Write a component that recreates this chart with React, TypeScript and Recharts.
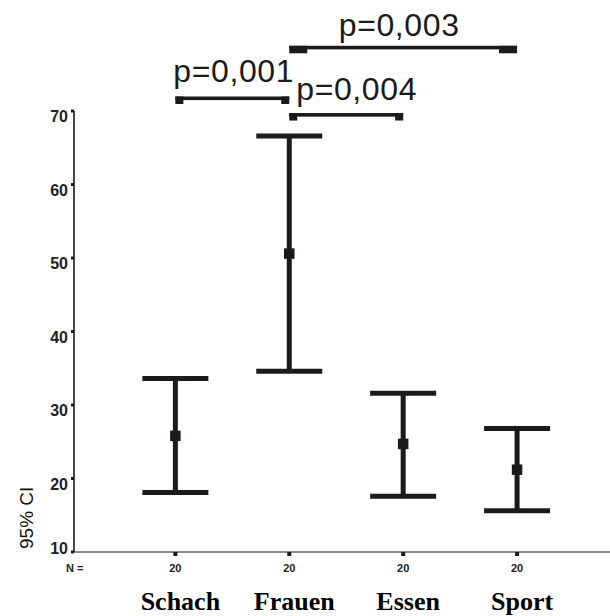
import { ComposedChart, ErrorBar, ReferenceLine, Scatter, XAxis, YAxis, ZAxis } from "recharts";

const categories = ["Schach", "Frauen", "Essen", "Sport"];
const counts = [20, 20, 20, 20];
const means = [25.8, 50.6, 24.7, 21.2];
const lower = [18.1, 34.6, 17.6, 15.6];
const upper = [33.6, 66.6, 31.6, 26.8];
const yTicks = [10, 20, 30, 40, 50, 60, 70];

// significance brackets: from group, to group, level, text
const pFrom = [1, 2, 2];
const pTo = [2, 3, 4];
const pLevel = [71.7, 69.45, 78.6];
const pLabels = ["p=0,001", "p=0,004", "p=0,003"];

const data = categories.map((name, i) => ({
  pos: i + 1,
  name,
  mean: means[i],
  err: [means[i] - lower[i], upper[i] - means[i]],
}));

const INK = "#1c1a1a";
const SANS = "Liberation Sans, Arial, sans-serif";

const bracketStyle = [
  { capW: 8, anchor: "start", dx: -2, dy: -15 },
  { capW: 8, anchor: "start", dx: 7, dy: -13 },
  { capW: 18, anchor: "middle", dx: -4, dy: -10 },
];

function bracketShape(i: number) {
  return (p: any) => {
    const { x1, x2, y1 } = p;
    const s = bracketStyle[i];
    const top = y1 - 2;
    const tx = s.anchor === "middle" ? (x1 + x2) / 2 + s.dx : x1 + s.dx;
    return (
      <g>
        <rect x={x1} y={top} width={x2 - x1} height={3.6} fill={INK} />
        <rect x={x1} y={top} width={s.capW} height={7.5} fill={INK} />
        <rect x={x2 - s.capW} y={top} width={s.capW} height={7.5} fill={INK} />
        <text
          x={tx}
          y={top + s.dy}
          textAnchor={s.anchor}
          fontSize={32}
          letterSpacing={0.6}
          fontFamily={SANS}
          fill={INK}
        >
          {pLabels[i]}
        </text>
      </g>
    );
  };
}

const XTick = (props: any) => {
  const { x, y, payload } = props;
  const i = payload.value - 1;
  return (
    <g>
      <text x={x} y={y + 14} textAnchor="middle" fontSize={11} fontWeight="bold" fontFamily={SANS} fill="#222">
        {counts[i]}
      </text>
      <text
        x={x + 5}
        y={y + 52}
        textAnchor="middle"
        fontSize={26}
        fontWeight="bold"
        fontFamily="Liberation Serif, Times New Roman, serif"
        fill="#000"
      >
        {categories[i]}
      </text>
    </g>
  );
};

const YTick = (props: any) => {
  const { x, y, payload } = props;
  const off = payload.value === 10 ? -3 : 6;
  return (
    <text x={x} y={y + off + 5} textAnchor="end" fontSize={16} fontWeight="bold" fontFamily={SANS} fill="#222">
      {payload.value}
    </text>
  );
};

export default function App() {
  return (
    <div style={{ position: "absolute", left: 0, top: 0, background: "#fff" }}>
      <ComposedChart width={610} height={616} data={data} margin={{ top: 111, right: 0, bottom: 34, left: 1 }}>
        <XAxis
          type="number"
          dataKey="pos"
          domain={[0.11, 4.816]}
          allowDataOverflow
          ticks={[1, 2, 3, 4]}
          height={30}
          tickSize={4}
          tickMargin={2}
          tickLine={{ stroke: INK, strokeWidth: 4 }}
          axisLine={{ stroke: "#666", strokeWidth: 1.6 }}
          tick={<XTick />}
          label={{
            content: (p: any) => (
              <text
                x={p.viewBox.x - 8}
                y={p.viewBox.y + 20}
                fontSize={11}
                fontWeight="bold"
                fontFamily={SANS}
                fill="#222"
              >
                N =
              </text>
            ),
          }}
        />
        <YAxis
          type="number"
          domain={[10, 70]}
          ticks={yTicks}
          width={73}
          tickSize={3}
          tickMargin={3}
          tickLine={{ stroke: INK, strokeWidth: 3 }}
          axisLine={{ stroke: INK, strokeWidth: 1.6 }}
          tick={<YTick />}
          label={{
            content: (p: any) => {
              const x = p.viewBox.x + 32;
              const y = p.viewBox.y + p.viewBox.height - 3;
              return (
                <text
                  x={x}
                  y={y}
                  transform={`rotate(-90, ${x}, ${y})`}
                  textAnchor="start"
                  fontSize={19}
                  fontFamily={SANS}
                  fill="#111"
                >
                  95% CI
                </text>
              );
            },
          }}
        />
        <ZAxis range={[110, 110]} />
        <Scatter dataKey="mean" fill={INK} shape="square" isAnimationActive={false}>
          <ErrorBar dataKey="err" direction="y" width={33} strokeWidth={5} stroke={INK} isAnimationActive={false} />
        </Scatter>
        {pLabels.map((_, i) => (
          <ReferenceLine
            key={i}
            segment={[
              { x: pFrom[i], y: pLevel[i] },
              { x: pTo[i], y: pLevel[i] },
            ]}
            ifOverflow="visible"
            shape={bracketShape(i)}
          />
        ))}
      </ComposedChart>
    </div>
  );
}
